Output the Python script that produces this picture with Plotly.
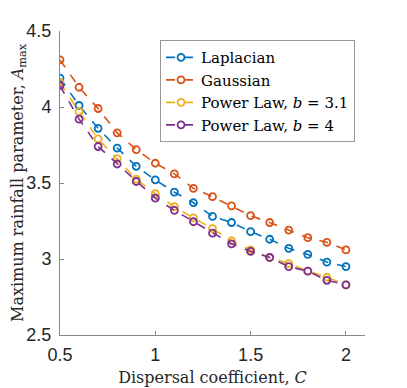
import plotly.graph_objects as go

# dispersal coefficient values
C = [0.5, 0.6, 0.7, 0.8, 0.9, 1.0, 1.1, 1.2, 1.3, 1.4, 1.5, 1.6, 1.7, 1.8, 1.9, 2.0]

laplacian = [4.19, 4.01, 3.86, 3.73, 3.61, 3.52, 3.44, 3.37, 3.28, 3.24, 3.18, 3.13, 3.07, 3.03, 2.98, 2.95]
gaussian = [4.31, 4.13, 3.99, 3.83, 3.72, 3.63, 3.56, 3.465, 3.41, 3.35, 3.285, 3.24, 3.19, 3.14, 3.11, 3.06]
power_31 = [4.16, 3.97, 3.79, 3.66, 3.525, 3.43, 3.345, 3.27, 3.20, 3.12, 3.06, 3.01, 2.97, 2.92, 2.88, 2.83]
power_4 = [4.14, 3.92, 3.74, 3.625, 3.51, 3.40, 3.32, 3.245, 3.17, 3.10, 3.05, 3.01, 2.95, 2.92, 2.86, 2.83]

x_ticks = [0.5, 1, 1.5, 2]
x_tick_text = ['0.5', '1', '1.5', '2']
y_ticks = [2.5, 3, 3.5, 4, 4.5]
y_tick_text = ['2.5', '3', '3.5', '4', '4.5']

series = [
    ('Laplacian', laplacian, '#0072BD'),
    ('Gaussian', gaussian, '#D95319'),
    ('Power Law, <i>b</i> = 3.1', power_31, '#EDB120'),
    ('Power Law, <i>b</i> = 4', power_4, '#7E2F8E'),
]

fig = go.Figure()
for name, vals, col in series:
    fig.add_trace(go.Scatter(x=C, y=vals, mode='lines+markers', name=name,
                             line=dict(color=col, width=1.6, dash='dash'),
                             marker=dict(symbol='circle-open', size=7, color=col,
                                         line=dict(width=1.8, color=col))))

serif = 'DejaVu Serif, Liberation Serif, serif'
sans = 'Liberation Sans, Arial, sans-serif'

# page body shifts the figure by 8px, margins are set to allow for that
fig.update_layout(
    width=391, height=388,
    margin=dict(l=52, r=34, t=23, b=61),
    plot_bgcolor='white', paper_bgcolor='white',
    showlegend=True,
    legend=dict(x=0.328, y=0.97, xanchor='left', yanchor='top',
                bgcolor='white', bordercolor='#999999', borderwidth=1,
                font=dict(family=serif, size=15, color='black'),
                tracegroupgap=0, itemwidth=30),
    xaxis=dict(range=[0.5, 2.1], tickvals=x_ticks, ticktext=x_tick_text,
               showgrid=False, zeroline=False, showline=True, linecolor='#888888', linewidth=1,
               ticks='inside', ticklen=4, tickcolor='#888888', ticklabelstandoff=3,
               tickfont=dict(family=sans, size=18, color='#262626'),
               title=dict(text='Dispersal coefficient, <i>C</i>', standoff=8,
                          font=dict(family=serif, size=16, color='#262626'))),
    yaxis=dict(range=[2.5, 4.5], tickvals=y_ticks, ticktext=y_tick_text, automargin=False,
               showgrid=False, zeroline=False, showline=True, linecolor='#888888', linewidth=1,
               ticks='inside', ticklen=4, tickcolor='#888888', ticklabelstandoff=4,
               tickfont=dict(family=sans, size=18, color='#262626'),
               title=dict(text='Maximum rainfall parameter, <i>A</i><sub>max</sub>',
                          font=dict(family=serif, size=16, color='#262626'))),
)

fig.write_html("out.html")
